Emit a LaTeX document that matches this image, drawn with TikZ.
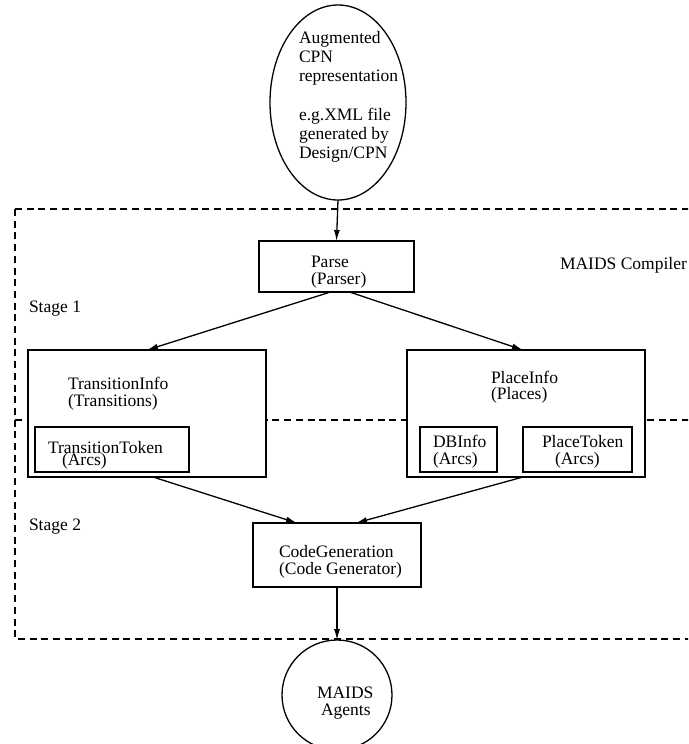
\documentclass[tikz,border=0pt]{standalone}
\usepackage{fontspec}
\setmainfont{Liberation Serif}
\usetikzlibrary{shapes.geometric,arrows.meta}

\begin{document}
\begin{tikzpicture}[x=1pt,y=-1pt,
  every node/.style={inner sep=0pt, outer sep=0pt},
  box/.style={draw, fill=white, line width=1.3pt, rectangle},
  txt/.style={anchor=base west, font=\fontsize{17.5}{19.5}\selectfont},
  frame/.style={line width=1.3pt, dash pattern=on 7pt off 4.7pt},
  link/.style={line width=1.3pt, -{Latex[length=11pt,width=6pt]}}]

\clip (0,0) rectangle (688,744);

% compiler frame and the stage divider
\draw[frame] (15,209) -- (700,209);
\draw[frame] (15,209) -- (15,639) -- (700,639);
\draw[frame] (15,420) -- (700,420);

% input representation
\node[draw, ellipse, line width=1.3pt, minimum width=136, minimum height=195] (cpn) at (338,102.5) {};
\node[txt] (c1) at (299,43) {Augmented};
\node[txt] (c2) at (299,62.3) {CPN};
\node[txt] (c3) at (299,81.6) {representation};
\node[txt] (c4) at (299,120.2) {e.g.XML file};
\node[txt] (c5) at (299,139.5) {generated by};
\node[txt] (c6) at (299,158.8) {Design/CPN};

\node[txt] (comp) at (560,269) {MAIDS Compiler};
\node[txt] (st1) at (29,312) {Stage 1};
\node[txt] (st2) at (29,530) {Stage 2};

% parser
\node[box, minimum width=155, minimum height=51] (parse) at (336.5,266.5) {};
\node[txt] (p1) at (311,267) {Parse};
\node[txt] (p2) at (311,284) {(Parser)};

% transitions
\node[box, minimum width=238, minimum height=127] (ti) at (147,413.5) {};
\node[txt] (ti1) at (68,389.5) {TransitionInfo};
\node[txt] (ti2) at (68,406) {(Transitions)};
\node[box, minimum width=154, minimum height=45] (tt) at (112,449.5) {};
\node[txt] (tt1) at (48,453) {TransitionToken};
\node[txt] (tt2) at (62,465) {(Arcs)};

% places
\node[box, minimum width=238, minimum height=127] (pi) at (526,413.5) {};
\node[txt] (pi1) at (491,383) {PlaceInfo};
\node[txt] (pi2) at (491,399.5) {(Places)};
\node[box, minimum width=77, minimum height=45] (db) at (458.5,449.5) {};
\node[txt] (db1) at (433,447) {DBInfo};
\node[txt] (db2) at (433,464) {(Arcs)};
\node[box, minimum width=109, minimum height=45] (pt) at (577.5,449.5) {};
\node[txt] (pt1) at (542,447) {PlaceToken};
\node[txt] (pt2) at (555,464) {(Arcs)};

% code generator
\node[box, minimum width=168, minimum height=64] (cg) at (337,555) {};
\node[txt] (cg1) at (279,557) {CodeGeneration};
\node[txt] (cg2) at (279,574) {(Code Generator)};

% output agents
\node[draw, circle, line width=1.3pt, minimum size=110] (ag) at (337,695) {};
\node[txt] (ag1) at (317,698) {MAIDS};
\node[txt] (ag2) at (321,715) {Agents};

% connectors
\draw[link] (cpn.south) -- (parse.north);
\draw[link] ([xshift=-6]parse.south) -- (ti.north);
\draw[link] ([xshift=13]parse.south) -- ([xshift=-3]pi.north);
\draw[link] ([xshift=6]ti.south) -- ([xshift=-40]cg.north);
\draw[link] ([xshift=-3]pi.south) -- ([xshift=19]cg.north);
\draw[link] (cg.south) -- (ag.north);
\end{tikzpicture}
\end{document}
